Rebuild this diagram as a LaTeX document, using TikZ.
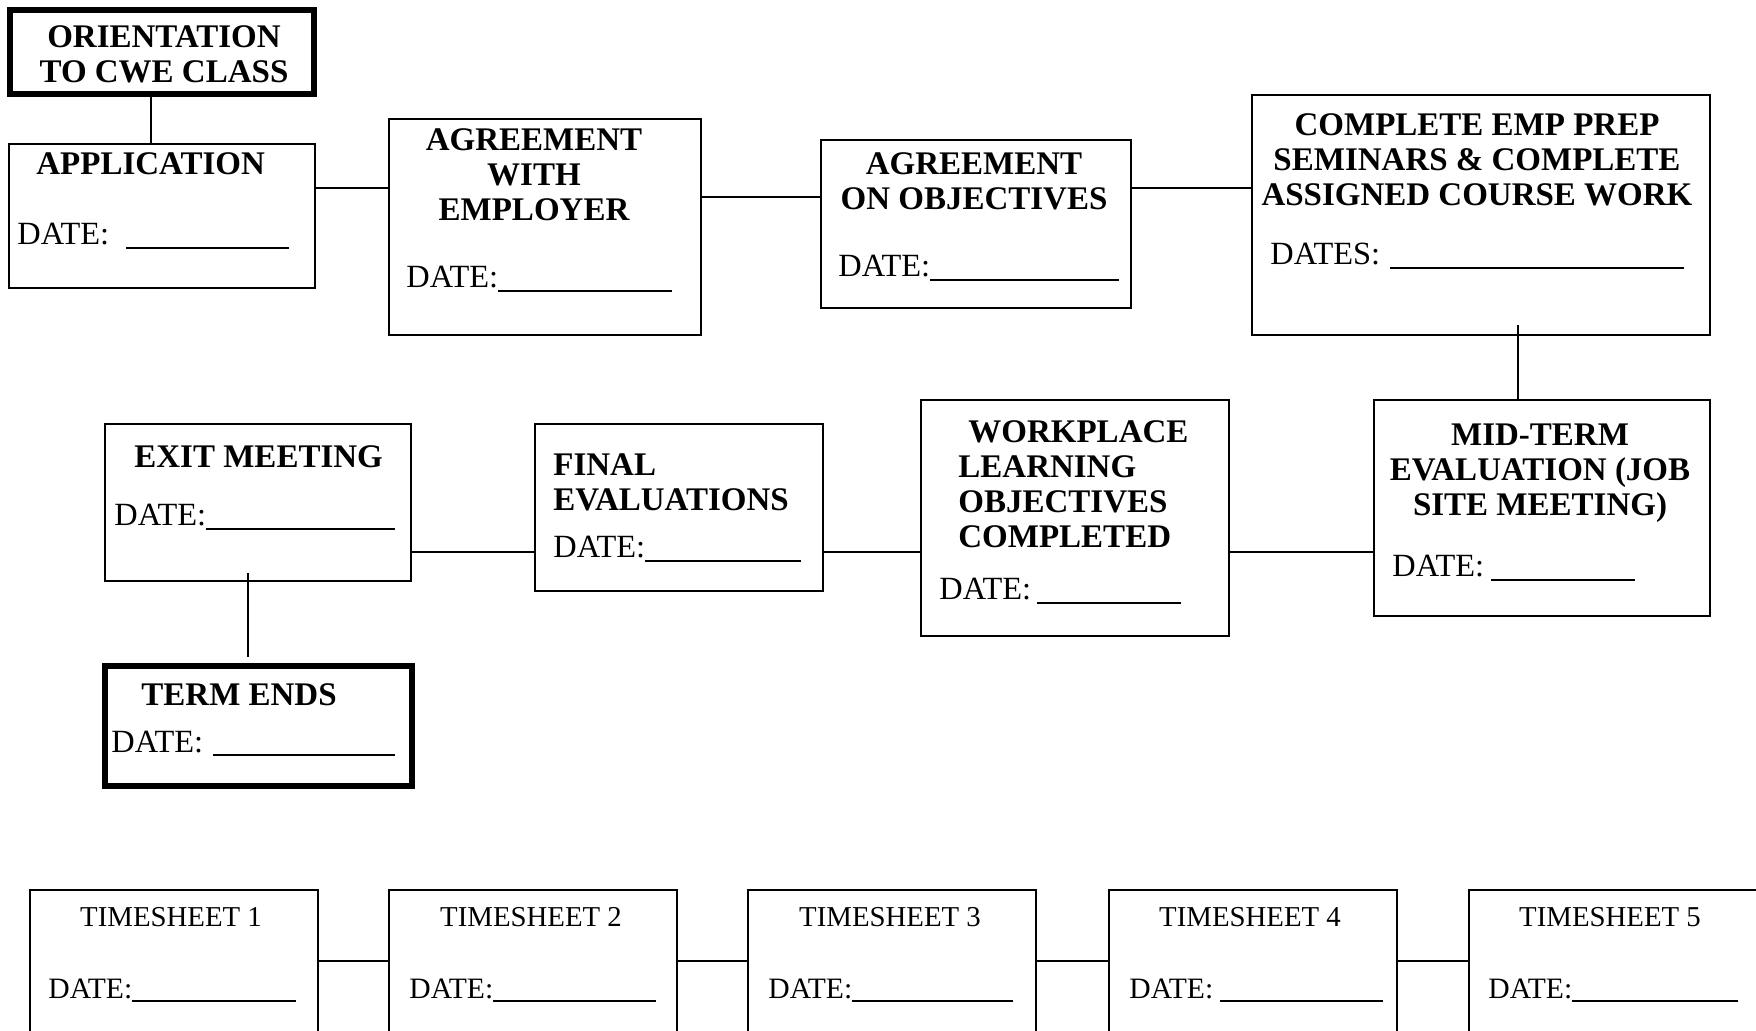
\documentclass[tikz,border=0pt]{standalone}
\usepackage{fontspec}
\setmainfont{Liberation Serif}
\newcommand\dateline[2][0pt]{\hspace*{#1}\rule[-2pt]{#2}{1.05pt}}

\begin{document}
\begin{tikzpicture}[x=.5pt,y=-.5pt,
  box/.style={draw,line width=1pt,anchor=north west,inner sep=0pt,outer sep=0pt},
  bigbox/.style={box,line width=3pt},
  head/.style={inner sep=0pt,align=center,font=\bfseries\fontsize{16.5}{17.5}\selectfont},
  datetext/.style={inner sep=0pt,anchor=base west,font=\fontsize{16.2}{18}\selectfont},
  tshead/.style={inner sep=0pt,anchor=north,font=\fontsize{14.4}{16}\selectfont},
  tsdate/.style={inner sep=0pt,anchor=base west,font=\fontsize{14.8}{16}\selectfont},
  link/.style={line width=1pt},
  thinlink/.style={line width=.6pt}]
\path[use as bounding box] (0,0) rectangle (1756,1031);

% first row
\node[bigbox,minimum width=152pt,minimum height=42pt] (orient) at (10,10) {};
\node[head,anchor=north] (orient-t) at (164,25) {ORIENTATION\\TO CWE CLASS};
\node[box,minimum width=153pt,minimum height=72pt] (app) at (9,144) {};
\node[head,anchor=north west] (app-t) at (36,152) {APPLICATION};
\node[datetext] (app-d) at (17,245) {DATE:\dateline[8.4pt]{81.5pt}};
\node[box,minimum width=156pt,minimum height=108pt] (agr) at (389,119) {};
\node[head,anchor=north] (agr-t) at (534,128) {AGREEMENT\\WITH\\EMPLOYER};
\node[datetext] (agr-d) at (406,288) {DATE:\dateline{87pt}};
\node[box,minimum width=155pt,minimum height=84pt] (obj) at (821,140) {};
\node[head,anchor=north] (obj-t) at (974,152) {AGREEMENT\\ON OBJECTIVES};
\node[datetext] (obj-d) at (838,277) {DATE:\dateline{94.5pt}};
\node[box,minimum width=229pt,minimum height=120pt] (prep) at (1252,95) {};
\node[head,anchor=north] (prep-t) at (1477,113) {COMPLETE EMP PREP\\SEMINARS \& COMPLETE\\ASSIGNED COURSE WORK};
\node[datetext] (prep-d) at (1270,265) {DATES:\dateline[5pt]{147pt}};

% second row
\node[box,minimum width=168pt,minimum height=108pt] (mid) at (1374,400) {};
\node[head,anchor=north] (mid-t) at (1540,423) {MID-TERM\\EVALUATION (JOB\\SITE MEETING)};
\node[datetext] (mid-d) at (1392,577) {DATE:\dateline[3.5pt]{72pt}};
\node[box,minimum width=154pt,minimum height=118pt] (work) at (921,400) {};
\node[head,align=left,anchor=north west] (work-t) at (958,420) {\hspace*{5pt}WORKPLACE\\LEARNING\\OBJECTIVES\\COMPLETED};
\node[datetext] (work-d) at (939,600) {DATE:\dateline[3pt]{72pt}};
\node[box,minimum width=144pt,minimum height=83.5pt] (final) at (535,424) {};
\node[head,align=left,anchor=north west] (final-t) at (553,453) {FINAL\\EVALUATIONS};
\node[datetext] (final-d) at (553,558) {DATE:\dateline{78pt}};
\node[box,minimum width=153pt,minimum height=78.5pt] (exit) at (105,424) {};
\node[head,anchor=north west] (exit-t) at (134,445) {EXIT MEETING};
\node[datetext] (exit-d) at (114,526) {DATE:\dateline{94.5pt}};
\node[bigbox,minimum width=153.5pt,minimum height=60pt] (term) at (105,666) {};
\node[head,anchor=north west] (term-t) at (141,683) {TERM ENDS};
\node[datetext] (term-d) at (111,752) {DATE:\dateline[5pt]{91pt}};

% timesheets
\node[box,minimum width=144pt,minimum height=85pt] (ts1) at (30,890) {};
\node[tshead] (ts1-t) at (171,907) {TIMESHEET 1};
\node[tsdate] (ts1-d) at (48,998) {DATE:\dateline{82pt}};
\node[box,minimum width=144pt,minimum height=85pt] (ts2) at (389,890) {};
\node[tshead] (ts2-t) at (531,907) {TIMESHEET 2};
\node[tsdate] (ts2-d) at (409,998) {DATE:\dateline{81.5pt}};
\node[box,minimum width=144pt,minimum height=85pt] (ts3) at (748,890) {};
\node[tshead] (ts3-t) at (890,907) {TIMESHEET 3};
\node[tsdate] (ts3-d) at (768,998) {DATE:\dateline{80.5pt}};
\node[box,minimum width=144pt,minimum height=85pt] (ts4) at (1109,890) {};
\node[tshead] (ts4-t) at (1250,907) {TIMESHEET 4};
\node[tsdate] (ts4-d) at (1129,998) {DATE:\dateline[3.4pt]{81.5pt}};
\node[box,minimum width=145pt,minimum height=85pt] (ts5) at (1469,890) {};
\node[tshead] (ts5-t) at (1610,907) {TIMESHEET 5};
\node[tsdate] (ts5-d) at (1488,998) {DATE:\dateline{83pt}};

% connectors
\draw[thinlink] (orient.south -| 151,0) -- (app.north -| 151,0);
\draw[link] (app.east |- 0,188) -- (agr.west |- 0,188);
\draw[link] (agr.east |- 0,197) -- (obj.west |- 0,197);
\draw[link] (obj.east |- 0,188) -- (prep.west |- 0,188);
\draw[thinlink] ([yshift=5pt]prep.south -| 1518,0) -- (mid.north -| 1518,0);
\draw[link] (work.east |- 0,552) -- (mid.west |- 0,552);
\draw[link] (final.east |- 0,552) -- (work.west |- 0,552);
\draw[link] (exit.east |- 0,552) -- (final.west |- 0,552);
\draw[thinlink] ([yshift=4pt]exit.south -| 248,0) -- ([yshift=4.5pt]term.north -| 248,0);
\draw[link] (ts1.east |- 0,961) -- (ts2.west |- 0,961);
\draw[link] (ts2.east |- 0,961) -- (ts3.west |- 0,961);
\draw[link] (ts3.east |- 0,961) -- (ts4.west |- 0,961);
\draw[link] (ts4.east |- 0,961) -- (ts5.west |- 0,961);
\end{tikzpicture}
\end{document}
